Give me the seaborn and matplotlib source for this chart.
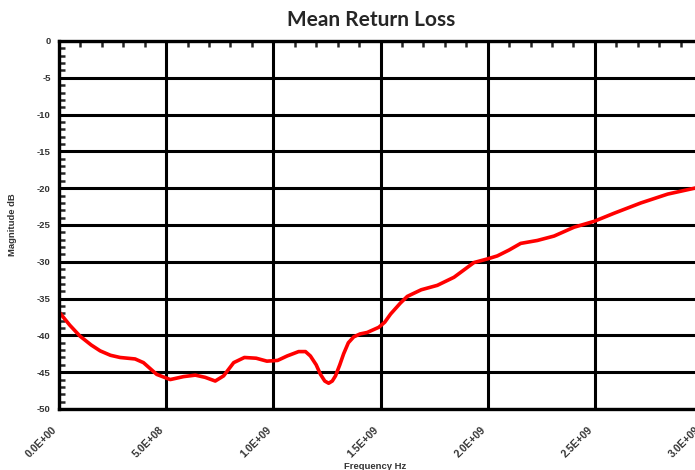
import numpy as np
import pandas as pd
import matplotlib
matplotlib.use("Agg")
import matplotlib.pyplot as plt
from matplotlib.ticker import MultipleLocator, FuncFormatter
import seaborn as sns

# data (frequency in units of 1e8 Hz, magnitude in dB)
freq_e8 = [0.0, 0.5, 0.98, 1.5, 1.92, 2.4, 2.85, 3.55, 3.94, 4.56, 5.19, 5.81,
           6.36, 6.82, 7.29, 7.68, 8.15, 8.65, 9.2, 9.7, 10.2, 10.64, 11.18,
           11.5, 11.73, 12.0, 12.2, 12.4, 12.58, 12.75, 12.9, 13.1, 13.28,
           13.5, 13.75, 14.05, 14.38, 14.92, 15.2, 15.47, 15.93, 16.25, 16.9,
           17.65, 18.43, 19.36, 20.0, 20.45, 21.0, 21.54, 22.32, 23.1, 24.03,
           24.97, 25.9, 27.15, 28.4, 29.65, 30.0]
mag_db = [-36.8, -38.6, -40.1, -41.3, -42.1, -42.7, -43.0, -43.2, -43.7, -45.3,
          -46.0, -45.6, -45.4, -45.7, -46.2, -45.5, -43.7, -43.0, -43.1, -43.5,
          -43.4, -42.8, -42.2, -42.2, -42.8, -44.0, -45.3, -46.2, -46.5, -46.2,
          -45.5, -44.0, -42.5, -41.0, -40.2, -39.8, -39.6, -38.9, -38.2, -37.1,
          -35.6, -34.7, -33.8, -33.2, -32.1, -30.1, -29.6, -29.2, -28.4, -27.5,
          -27.1, -26.5, -25.3, -24.5, -23.4, -22.0, -20.8, -20.0, -19.7]

x_ticks = [0.0, 5.0e8, 1.0e9, 1.5e9, 2.0e9, 2.5e9, 3.0e9]
y_ticks = list(range(-50, 1, 5))

df = pd.DataFrame({"freq": np.array(freq_e8) * 1e8, "mag": mag_db})

sns.set_style("white")
plt.rcParams["font.family"] = ["Liberation Sans", "DejaVu Sans"]

fig = plt.figure(figsize=(6.95, 4.70), dpi=100)
ax = fig.add_axes([59 / 695, 1 - 409 / 470, 643 / 695, 368 / 470])

sns.lineplot(data=df, x="freq", y="mag", color="#ff0000", linewidth=2.6, ax=ax)

ax.set_xlim(0, 3.0e9)
ax.set_ylim(-50, 0)
ax.set_xticks(x_ticks)
ax.set_yticks(y_ticks)
ax.xaxis.set_minor_locator(MultipleLocator(1e8))
ax.yaxis.set_minor_locator(MultipleLocator(1))
ax.xaxis.set_major_formatter(FuncFormatter(lambda v, p: f"{v:.1E}"))
ax.yaxis.set_major_formatter(FuncFormatter(lambda v, p: f"{int(v)}"))

ax.grid(True, which="major", color="black", linewidth=2.2)
ax.set_axisbelow(True)

for side in ["left", "top", "bottom"]:
    ax.spines[side].set_visible(True)
    ax.spines[side].set_color("black")
    ax.spines[side].set_linewidth(2.4)
ax.spines["right"].set_visible(False)

ax.tick_params(axis="y", which="major", direction="out", length=4, width=1.5,
               labelsize=6.8, colors="black", labelcolor="#333333", pad=2)
ax.tick_params(axis="y", which="minor", direction="in", length=4, width=1.8, left=True)
ax.tick_params(axis="x", which="major", direction="out", length=0, labelsize=7.5,
               labelcolor="#333333", pad=11)
ax.tick_params(axis="x", which="minor", direction="in", length=4, width=1.8,
               top=True, bottom=False)
for lbl in ax.get_xticklabels():
    lbl.set_rotation(45)
    lbl.set_ha("right")
    lbl.set_va("top")
    lbl.set_fontweight("bold")
for lbl in ax.get_yticklabels():
    lbl.set_fontweight("bold")

ax.set_xlabel("Frequency Hz", fontsize=6.8, fontweight="bold", color="#333333")
ax.set_ylabel("Magnitude dB", fontsize=6.8, fontweight="bold", color="#333333")
ax.xaxis.set_label_coords((375 - 59) / 643, -(462 - 409) / 368)
ax.yaxis.set_label_coords(-(59 - 17) / 643, 0.5)

fig.text(371 / 695, 1 - 20 / 470, "Mean Return Loss", ha="center", va="center",
         fontsize=15, fontweight="bold", family=["Lato", "DejaVu Sans"])

fig.savefig("out.png", dpi=100)
